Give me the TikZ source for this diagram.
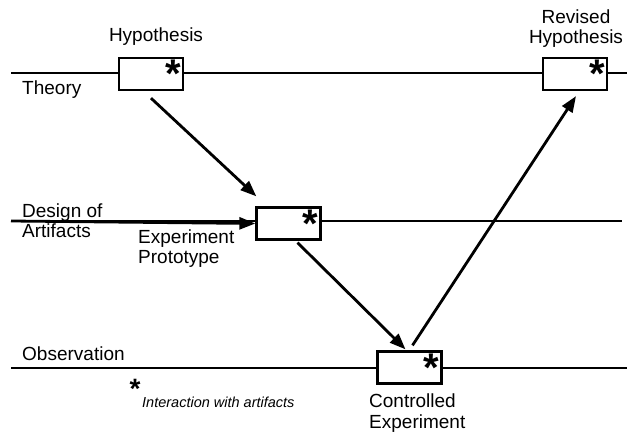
\documentclass[tikz,border=0pt]{standalone}
\usepackage{fontspec}
\setmainfont{Liberation Sans}
\usetikzlibrary{arrows.meta,calc}
\tikzset{
  lbl/.style={font=\fontsize{19}{20.5}\selectfont, inner sep=0pt, align=left},
  lblc/.style={font=\fontsize{19}{20.5}\selectfont, inner sep=0pt, align=center},
  phase/.style={draw, line width=2.3pt, fill=white, minimum width=64pt, minimum height=32pt, inner sep=0pt},
  track/.style={line width=2.3pt},
  flow/.style={line width=2.8pt, -{Triangle[length=16pt,width=12pt]}},
  star/.style={font=\fontsize{40}{40}\selectfont\bfseries, inner sep=0pt},
  smallstar/.style={font=\fontsize{28}{28}\selectfont\bfseries, inner sep=0pt}
}
\begin{document}
\begin{tikzpicture}[x=1pt,y=-1pt]
\useasboundingbox (0,0) rectangle (636,435);
% track ends
\coordinate (t0) at (11,73);
\coordinate (t1) at (627,73);
\coordinate (d0) at (11,221);
\coordinate (d1) at (622,221);
\coordinate (o0) at (11,368);
\coordinate (o1) at (627,368);
\draw[track] (t0) -- (t1);
\draw[track] (d0) -- (d1);
\draw[track] (o0) -- (o1);
% boxes
\node[phase] (hyp) at (151,74) {};
\node[phase] (rev) at (575,74) {};
\node[phase] (proto) at (288.5,223.5) {};
\node[phase] (ctrl) at (409.5,367.5) {};
% stars
\foreach \b in {hyp,rev,proto,ctrl}
  \node[star, anchor=north east] at ($(\b.north east)+(-3,3)$) {*};
\node[smallstar] (istar) at (135,389) {*};
% labels
\node[lblc, anchor=base] (lhyp) at (156,42) {Hypothesis};
\node[lblc, anchor=base] (lrev) at (576,44) {Revised\\Hypothesis};
\node[lbl, anchor=base west] (ltheory) at (22,95) {Theory};
\node[lbl, anchor=base west] (ldesign) at (22,238) {Design of\\Artifacts};
\node[lbl, anchor=base west] (lproto) at (138,264) {Experiment\\Prototype};
\node[lbl, anchor=base west] (lobs) at (22,360) {Observation};
\node[lbl, anchor=base west] (lctrl) at (369,428) {Controlled\\Experiment};
\node[inner sep=0pt, anchor=base west, font=\fontsize{14.5}{16}\selectfont\itshape] (linter) at (142,407) {Interaction with artifacts};
% flows
\coordinate (a1s) at ($(hyp.south)+(0,7)$);
\coordinate (a1e) at ($(proto.north west)+(1,-10)$);
\draw[flow] (a1s) -- (a1e);
\draw[flow] (d0) -- (proto.west);
\coordinate (a2s) at ($(proto.south)+(9,2)$);
\coordinate (a2e) at ($(ctrl.north)+(-4,-1)$);
\draw[flow] (a2s) -- (a2e);
\coordinate (a3s) at ($(ctrl.north)+(3,-5)$);
\coordinate (a3e) at ($(rev.south)+(1,5)$);
\draw[flow] (a3s) -- (a3e);
\end{tikzpicture}
\end{document}
